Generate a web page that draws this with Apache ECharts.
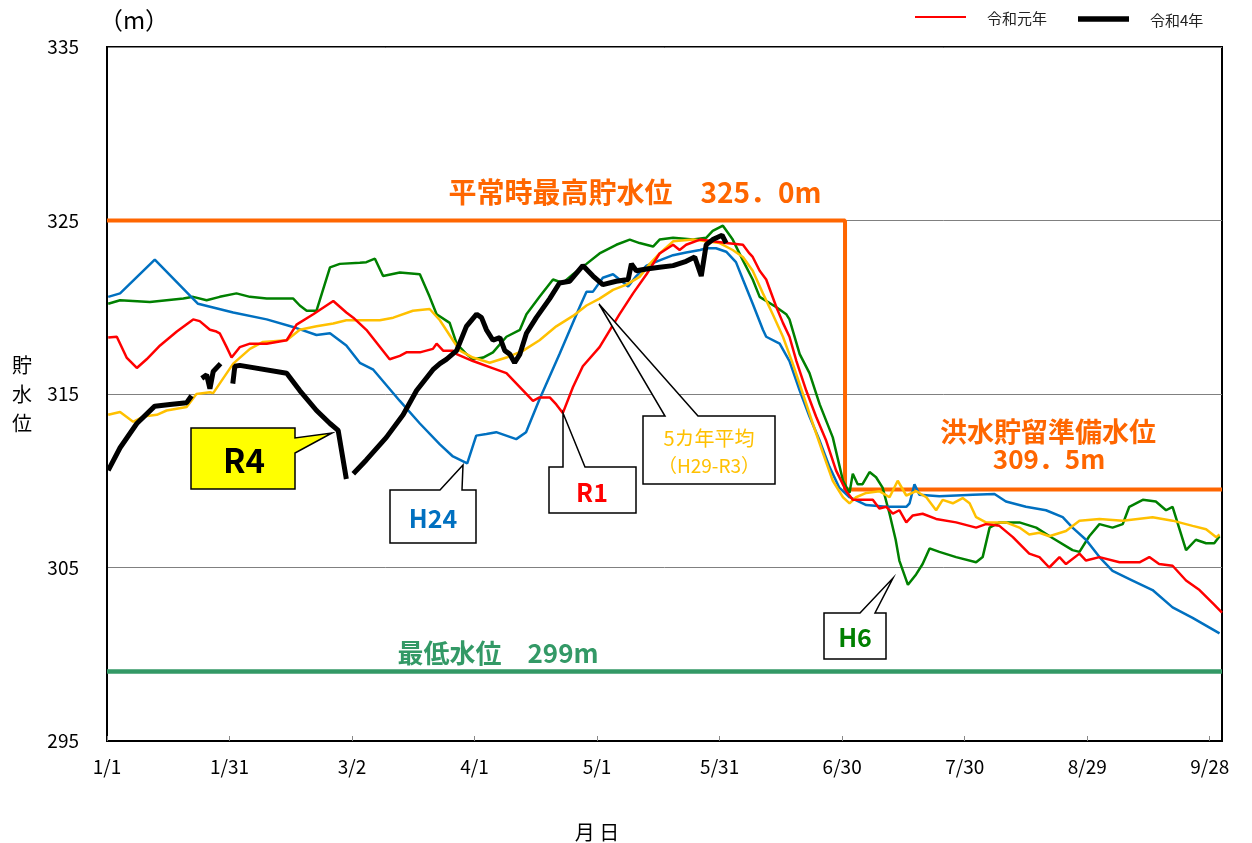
<!DOCTYPE html>
<html>
<head>
<meta charset="utf-8">
<script src="https://cdn.jsdelivr.net/npm/echarts@6/dist/echarts.min.js"></script>
<style>
  html, body { margin: 0; padding: 0; background: #fff; }
  #chart { width: 1252px; height: 843px; }
</style>
</head>
<body>
<div id="chart"></div>
<script>
// x は 1/1 からの日数
const tickLabels = ['1/1', '1/31', '3/2', '4/1', '5/1', '5/31', '6/30', '7/30', '8/29', '9/28']

const normalHighLv = 325.0
const floodPrepLv = 309.5
const minLv = 299
const switchDay = 180.7

const h6 = [
  [0.3, 320.2], [3.2, 320.4], [10.5, 320.3], [18.7, 320.5], [21.1, 320.6], [24.4, 320.4], [27.6, 320.6],
  [31.7, 320.8], [35, 320.6], [39.1, 320.5], [45.6, 320.5], [47.2, 320.1], [48.9, 319.8], [51.3, 319.8],
  [54.6, 322.3], [57, 322.5], [61.9, 322.56], [63.5, 322.6], [65.6, 322.8], [67.6, 321.8], [71.7, 322.0],
  [76.6, 321.9], [79.0, 320.6], [80.7, 319.6], [83.9, 319.1], [85.6, 317.9], [88, 317.3], [89.6, 317.0],
  [92.1, 317.1], [94.5, 317.4], [97.8, 318.3], [101.1, 318.7], [102.7, 319.6], [105.9, 320.6], [109.2, 321.6],
  [111.6, 321.4], [114.1, 321.9], [117.4, 322.5], [120.6, 323.1], [124.7, 323.6], [128, 323.9], [130.4, 323.7],
  [133.7, 323.5], [135.3, 323.9], [138.6, 324.0], [143.5, 323.9], [146.7, 324.0], [148.3, 324.4], [150.8, 324.7],
  [153.2, 323.9], [155.7, 322.7], [158.1, 321.6], [159.8, 320.6], [163.9, 320.0], [166.3, 319.6], [167.1, 319.3],
  [169.6, 317.3], [172, 316.2], [174.5, 314.4], [177.7, 312.5], [180.2, 310.0], [181.8, 309.3], [182.6, 310.4],
  [183.8, 309.8], [185, 309.8], [186.7, 310.5], [188.3, 310.2], [189.9, 309.6], [191.6, 308.1], [193.1, 306.6],
  [194.0, 305.4], [196.1, 304.0], [198.1, 304.6], [199.7, 305.2], [201.4, 306.1], [203.8, 305.9], [207.9, 305.6],
  [212.8, 305.3], [214.4, 305.6], [216.1, 307.3], [218.5, 307.6], [223.4, 307.6], [227.5, 307.3], [231.5, 306.7],
  [236.4, 306.0], [238.1, 305.9], [240.5, 306.8], [243, 307.5], [246.2, 307.3], [248.7, 307.5], [250.3, 308.5],
  [253.6, 308.9], [256.8, 308.8], [259.3, 308.3], [260.9, 308.5], [264.2, 306.0], [266.6, 306.6], [269.1, 306.4],
  [271.1, 306.4], [272.4, 306.8]
]

const h24 = [
  [0.3, 320.6], [3.2, 320.8], [11.7, 322.75], [22.3, 320.2], [30.9, 319.7], [39.1, 319.3], [46.4, 318.8],
  [51.3, 318.4], [54.6, 318.5], [58.6, 317.8], [61.9, 316.8], [65.2, 316.4], [71.7, 314.6], [76.6, 313.3],
  [81.5, 312.1], [84.7, 311.4], [88.2, 311.0], [90.4, 312.6], [92.9, 312.7], [95.3, 312.8], [100.2, 312.4],
  [102.6, 312.8], [105.9, 314.7], [110.8, 317.3], [115.7, 320.0], [117.4, 320.9], [119, 320.9], [121.4, 321.7],
  [123.9, 321.9], [125.5, 321.6], [127.6, 321.2], [129.6, 321.8], [132.1, 322.4], [135.3, 322.7], [138.6, 323.0],
  [141.8, 323.15], [145.2, 323.3], [146.7, 323.4], [149.1, 323.4], [151.6, 323.2], [154.0, 322.6], [155.7, 321.6],
  [158.1, 320.2], [160.6, 318.7], [161.4, 318.3], [164.7, 317.9], [167.1, 316.9], [169.6, 315.2], [172.0, 313.7],
  [174.5, 312.3], [176.9, 310.8], [179.3, 309.6], [181.8, 309.05], [185.9, 308.6], [190.8, 308.5], [195.7, 308.5],
  [196.5, 308.7], [197.7, 309.8], [198.9, 309.2], [203.8, 309.1], [212, 309.2], [217.3, 309.24], [220.1, 308.8],
  [225, 308.5], [229.9, 308.3], [234, 307.9], [236.4, 307.3], [239.7, 306.6], [243, 305.6], [246.2, 304.8],
  [251.1, 304.25], [256, 303.7], [260.9, 302.7], [265.8, 302.1], [269.1, 301.65], [272.4, 301.2]
]

const r1 = [
  [0.3, 318.25], [2.4, 318.3], [4.8, 317.1], [7.3, 316.5], [9.7, 317.0], [13, 317.8], [17.1, 318.6], [21.1, 319.3],
  [22.7, 319.2], [25.2, 318.7], [26.8, 318.6], [27.6, 318.5], [29.3, 317.7], [30.5, 317.1], [32.5, 317.7],
  [35, 317.9], [39.1, 317.9], [44, 318.1], [46.4, 319.0], [50.5, 319.6], [55.4, 320.36], [58.6, 319.7],
  [60.3, 319.4], [63.5, 318.7], [69.2, 317.0], [71.7, 317.2], [73.3, 317.4], [76.6, 317.4], [79.8, 317.6],
  [80.7, 317.9], [82.3, 317.5], [84.7, 317.5], [85.6, 317.3], [89.6, 316.9], [93.7, 316.55], [97.8, 316.2],
  [101.9, 315.2], [104.3, 314.6], [105.9, 314.8], [108.4, 314.8], [110.0, 314.4], [111.6, 313.9], [114.1, 315.4],
  [116.5, 316.6], [120.6, 317.7], [125.5, 319.6], [128.8, 320.8], [132.1, 321.9], [135.3, 323.1], [138.6, 323.6],
  [140.2, 323.3], [141.8, 323.6], [145.2, 323.9], [148.3, 323.8], [151.6, 323.7], [155.7, 323.6], [157.3, 323.1],
  [158.1, 322.9], [159.8, 322.1], [161.4, 321.6], [163.9, 320.0], [165.5, 319.1], [167.1, 318.3], [168.8, 316.9],
  [171.2, 315.2], [173.6, 313.7], [176.1, 312.3], [178.5, 310.6], [181.0, 309.4], [182.6, 308.9], [184.2, 308.9],
  [187.5, 308.9], [189.1, 308.4], [190.8, 308.5], [192.4, 308.1], [194.0, 308.3], [195.7, 307.6], [197.3, 308.0],
  [199.7, 308.1], [203, 307.8], [207.9, 307.6], [212.8, 307.3], [215.2, 307.5], [218.5, 307.4], [221.8, 306.75],
  [225.8, 305.8], [228.3, 305.6], [230.7, 305.0], [233.2, 305.6], [234.8, 305.2], [238.1, 305.8], [239.7, 305.4],
  [243, 305.6], [247.9, 305.3], [252.8, 305.3], [255.2, 305.6], [257.6, 305.2], [260.9, 305.1], [264.2, 304.25],
  [267.5, 303.7], [270.9, 302.9], [273, 302.4]
]

const avg5 = [
  [0.3, 313.8], [3.2, 313.96], [6.4, 313.4], [8.9, 313.7], [12.2, 313.8], [14.6, 314.05], [19.5, 314.25],
  [21.9, 315.0], [25.2, 315.1], [26, 315.05], [30.9, 316.75], [35, 317.6], [38.2, 318.0], [44, 318.1],
  [47.2, 318.7], [51.3, 318.9], [55.4, 319.06], [58.6, 319.25], [66.8, 319.25], [70.1, 319.4], [74.9, 319.8],
  [79, 319.9], [81.5, 319.25], [84.7, 318.1], [86.4, 317.5], [88, 317.3], [89.6, 317.1], [93.7, 316.8],
  [97.8, 317.1], [101.9, 317.5], [105.9, 318.1], [110, 318.9], [114.1, 319.5], [117.4, 320.1], [120.6, 320.5],
  [123.9, 321.0], [127.2, 321.3], [130.4, 321.75], [132.9, 322.5], [135.3, 323.1], [138.6, 323.8], [143.5, 323.9],
  [146.7, 323.8], [150, 323.7], [153.2, 323.3], [155.7, 322.9], [158.1, 322.1], [160.6, 320.8], [163, 319.6],
  [165.5, 318.3], [167.9, 316.75], [170.4, 315.0], [172.8, 313.3], [175.3, 311.6], [177.7, 310.0], [180.2, 309.05],
  [181.8, 308.7], [183.4, 309.05], [185.9, 309.3], [189.1, 309.4], [191.6, 309.05], [193.6, 310.0], [195.7, 309.15],
  [198.1, 309.4], [200.6, 309.05], [203, 308.3], [204.6, 308.9], [207.1, 308.7], [209.5, 309.0], [211.2, 308.7],
  [212.8, 307.9], [215.2, 307.6], [220.1, 307.6], [223.4, 307.3], [225.8, 306.9], [228.3, 307.0], [230.7, 306.8],
  [234.8, 307.1], [238.1, 307.7], [243, 307.8], [248.7, 307.7], [256, 307.9], [260.9, 307.7], [265.8, 307.4],
  [269.1, 307.2], [271.6, 306.75], [272.4, 306.9]
]

// null で線を切る（欠測）
const r4 = [
  [0.3, 310.6], [3.2, 311.9], [7.3, 313.3], [11.7, 314.3], [15.4, 314.4], [19.5, 314.5], [20.7, 314.9],
  [22, null],
  [23.2, 315.9], [24.4, 316.1], [25.2, 315.3], [26, 316.3], [27.8, 316.75],
  [29, null],
  [30.8, 315.6], [31.3, 316.6], [32.5, 316.65], [44, 316.2], [47.2, 315.2], [51.3, 314.05], [54.6, 313.3],
  [56.6, 312.9], [58.6, 310.1],
  [59.5, null],
  [60.3, 310.4], [63.5, 311.2], [68.4, 312.5], [72.5, 313.8], [75.8, 315.2], [79.8, 316.4], [81.5, 316.75],
  [83.1, 317.0], [85.6, 317.5], [88, 318.9], [90.5, 319.6], [91.7, 319.4], [92.9, 318.7], [94.5, 318.1],
  [96.2, 318.25], [97.4, 317.5], [98.6, 317.3], [99.8, 316.8], [101.1, 317.3], [102.7, 318.5], [105.1, 319.4],
  [108.4, 320.5], [110.8, 321.4], [113.3, 321.5], [116.5, 322.4], [119, 321.8], [121.4, 321.3], [124.7, 321.5],
  [127.6, 321.6], [128.4, 322.5], [129.6, 322.1], [132.1, 322.2], [135.3, 322.3], [138.6, 322.4], [141.8, 322.65],
  [143.9, 322.9], [145.5, 321.8], [146.7, 323.6], [148.3, 323.9], [150.6, 324.15], [151.6, 323.7]
]

const jpFont = '"Noto Sans CJK JP", "Noto Sans", sans-serif'
const orange = '#ff6600'
const minGreen = '#339966'

function thinLine(name, color, data) {
  return {
    name: name,
    type: 'line',
    data: data,
    symbol: 'none',
    showSymbol: false,
    connectNulls: false,
    lineStyle: { color: color, width: 2.5 },
    itemStyle: { color: color },
    z: 3
  }
}

function callout(points, fill) {
  return {
    type: 'polygon',
    shape: { points: points },
    style: { fill: fill, stroke: '#000', lineWidth: 1.5 },
    z: 20
  }
}

function label(x, y, text, color, size, weight, align) {
  return {
    type: 'text',
    x: x,
    y: y,
    style: {
      text: text,
      fill: color,
      font: (weight || 'normal') + ' ' + size + 'px ' + jpFont,
      align: align || 'center',
      verticalAlign: 'middle'
    },
    z: 21
  }
}

function legendLine(x1, x2, y, color, width) {
  return {
    type: 'line',
    shape: { x1: x1, y1: y, x2: x2, y2: y },
    style: { stroke: color, lineWidth: width },
    z: 21
  }
}

var chartDom = document.getElementById('chart');
var myChart = echarts.init(chartDom);

var option = {
  animation: false,
  backgroundColor: '#fff',
  textStyle: { fontFamily: jpFont },
  grid: {
    left: 107, right: 30, top: 47, bottom: 102,
    show: true, borderColor: '#000', borderWidth: 2
  },
  xAxis: {
    type: 'value',
    min: 0,
    max: 273,
    interval: 30,
    axisLine: { lineStyle: { color: '#000', width: 2 } },
    axisTick: { inside: true, length: 5, lineStyle: { color: '#888' } },
    axisLabel: {
      margin: 16,
      fontSize: 19,
      color: '#000',
      showMaxLabel: false,
      formatter: function (v) {
        var i = Math.round(v / 30)
        return (v % 30 === 0 && tickLabels[i]) ? tickLabels[i] : ''
      }
    },
    splitLine: { show: false }
  },
  yAxis: {
    type: 'value',
    min: 295,
    max: 335,
    interval: 10,
    axisLine: { show: true, lineStyle: { color: '#000', width: 2 } },
    axisTick: { show: false },
    axisLabel: { margin: 28, fontSize: 19, color: '#000' },
    splitLine: { lineStyle: { color: '#808080', width: 1 } }
  },
  series: [
    {
      name: '平常時最高貯水位',
      type: 'line',
      symbol: 'none',
      lineStyle: { color: orange, width: 4 },
      data: [[0, normalHighLv], [switchDay, normalHighLv], [switchDay, floodPrepLv], [273, floodPrepLv]],
      z: 2
    },
    {
      name: '最低水位',
      type: 'line',
      symbol: 'none',
      lineStyle: { color: minGreen, width: 4.5 },
      data: [[0, minLv], [273, minLv]],
      z: 2
    },
    thinLine('H6', '#008000', h6),
    thinLine('H24', '#0070c0', h24),
    thinLine('5カ年平均', '#ffc000', avg5),
    thinLine('令和元年', '#ff0000', r1),
    {
      name: '令和4年',
      type: 'line',
      data: r4,
      symbol: 'none',
      showSymbol: false,
      connectNulls: false,
      lineStyle: { color: '#000', width: 5 },
      itemStyle: { color: '#000' },
      z: 4
    }
  ],
  graphic: [
    // 凡例
    legendLine(915, 966, 17, '#ff0000', 2),
    label(987, 18, '令和元年', '#222', 15, 'normal', 'left'),
    legendLine(1078, 1129, 19, '#000', 5.5),
    label(1150, 20, '令和4年', '#222', 15, 'normal', 'left'),

    label(134, 20, '（m）', '#000', 24),
    {
      type: 'text', x: 22, y: 394,
      style: { text: '貯\n水\n位', fill: '#000', font: '20px ' + jpFont, align: 'center', verticalAlign: 'middle', lineHeight: 29 }
    },
    label(597, 832, '月 日', '#000', 20),
    label(635, 192, '平常時最高貯水位　325．0m', orange, 28, 'bold'),
    label(1048, 432, '洪水貯留準備水位', orange, 27, 'bold'),
    label(1049, 459, '309．5m', orange, 26, 'bold'),
    label(498, 653, '最低水位　299m', minGreen, 26, 'bold'),

    callout([[191, 428], [295, 428], [295, 438], [332, 433], [295, 453], [295, 489], [191, 489]], '#ffff00'),
    label(244, 460, 'R4', '#000', 33, 'bold'),

    callout([[390, 490], [440, 490], [463, 465], [462, 490], [476, 490], [476, 543], [390, 543]], '#fff'),
    label(433, 518, 'H24', '#0070c0', 25, 'bold'),

    callout([[549, 467], [563, 467], [563, 413], [585, 467], [636, 467], [636, 513], [549, 513]], '#fff'),
    label(592, 492, 'R1', '#ff0000', 25, 'bold'),

    callout([[643, 416], [665, 416], [599, 304], [698, 416], [775, 416], [775, 484], [643, 484]], '#fff'),
    label(709, 438, '5カ年平均', '#ffc000', 20),
    label(709, 466, '（H29-R3）', '#ffc000', 19),

    callout([[824, 613], [860, 613], [893, 578], [875, 613], [886, 613], [886, 659], [824, 659]], '#fff'),
    label(855, 637, 'H6', '#008000', 25, 'bold')
  ]
};

option && myChart.setOption(option);
</script>
</body>
</html>
